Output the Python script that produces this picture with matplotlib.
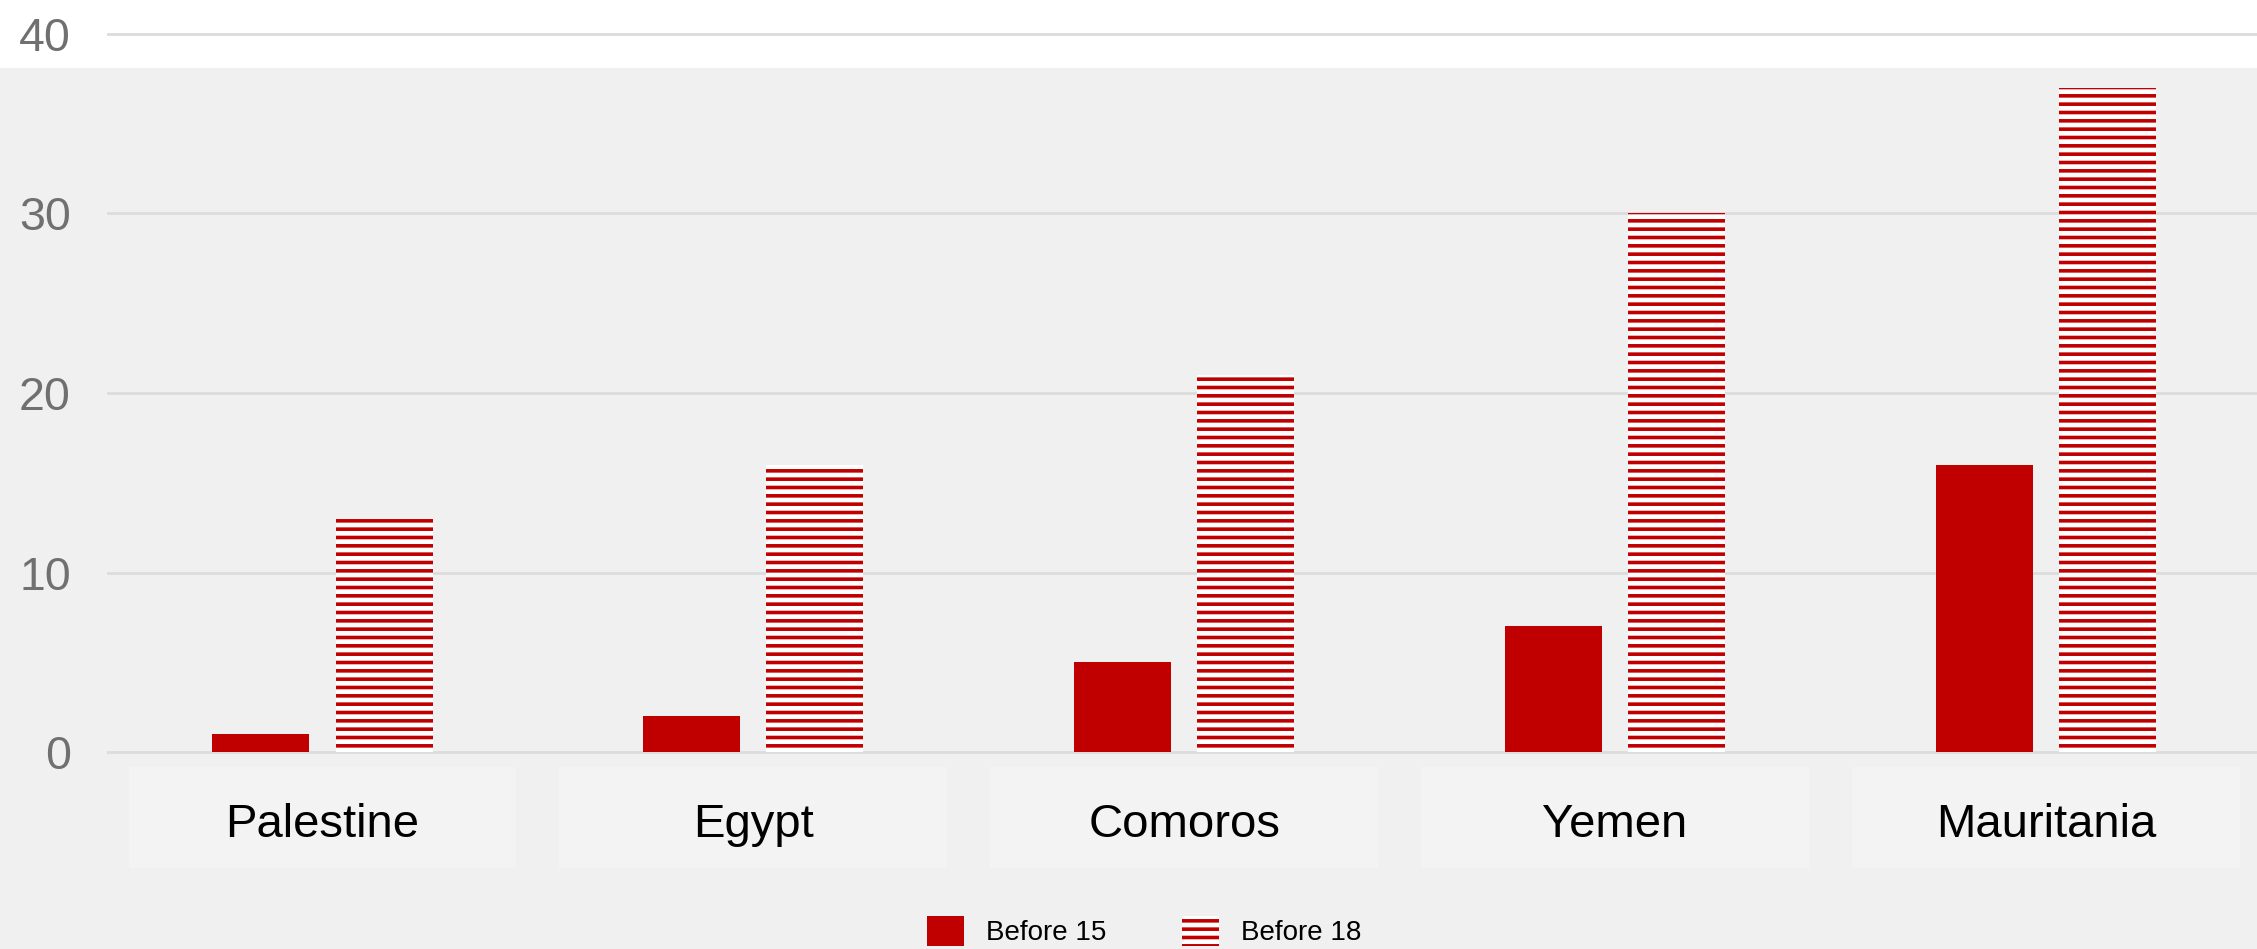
import matplotlib
matplotlib.use("Agg")
import matplotlib.pyplot as plt
from matplotlib.patches import Rectangle
from matplotlib.transforms import blended_transform_factory
import numpy as np

# data
countries = ["Palestine", "Egypt", "Comoros", "Yemen", "Mauritania"]
before_15 = [1, 2, 5, 7, 16]
before_18 = [13, 16, 21, 30, 37]
yticks = [0, 10, 20, 30, 40]

red = "#c00000"
plt.rcParams["font.family"] = ["Liberation Sans", "DejaVu Sans"]
plt.rcParams["hatch.linewidth"] = 2.6

fig = plt.figure(figsize=(22.57, 9.49), dpi=100)
fig.patch.set_facecolor("white")
# grey panel below the white strip at the top
fig.patches.append(Rectangle((0, 0), 1, 0.9283, transform=fig.transFigure,
                             facecolor="#f0f0f0", edgecolor="none", zorder=-10))

ax = fig.add_axes([0.0474, 0.1981, 0.9526, 0.7756])
ax.set_facecolor("none")

x = np.arange(len(countries))
w = 0.225
ax.bar(x - 0.143, before_15, w, color=red, linewidth=0, label="Before 15")
ax.bar(x + 0.143, before_18, w, facecolor="white", edgecolor=red, linewidth=0,
       hatch="--", label="Before 18")

ax.set_xlim(-0.5, len(countries) - 0.51)
ax.set_ylim(-0.5, 40.5)
ax.set_yticks(yticks)
ax.tick_params(axis="y", length=0, pad=26, labelsize=33.5, labelcolor="#707070")
ax.grid(axis="y", color="#dcdcdc", linewidth=2)
ax.set_axisbelow(True)
for s in ax.spines.values():
    s.set_visible(False)

ax.set_xticks(x)
ax.set_xticklabels(countries)
ax.tick_params(axis="x", length=0, pad=30, labelsize=34, labelcolor="black")

# light boxes behind the category labels
trans = blended_transform_factory(ax.transData, fig.transFigure)
for xi in x:
    ax.add_patch(Rectangle((xi - 0.45, 0.0854), 0.9, 0.1064, transform=trans,
                           facecolor="#f3f3f3", edgecolor="none", clip_on=False, zorder=-5))

fig.legend(loc="center", bbox_to_anchor=(0.507, 0.019), ncol=2, frameon=False,
           fontsize=20, handlelength=1.33, handleheight=1.33, handletextpad=0.8,
           columnspacing=2.7)

fig.savefig("out.png", dpi=100, facecolor=fig.get_facecolor())
